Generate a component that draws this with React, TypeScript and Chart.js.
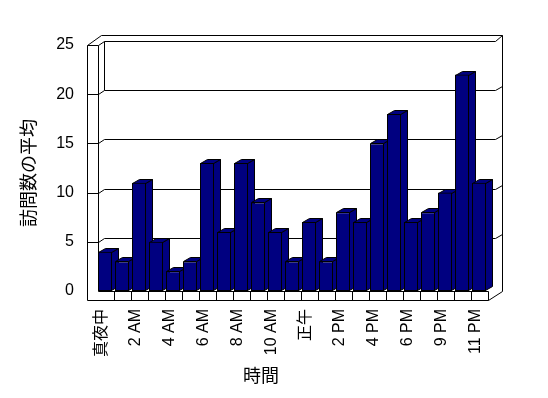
import React, { useEffect, useRef } from "react";
import { Chart, registerables } from "chart.js";

Chart.register(...registerables);

const categories: string[] = [
  "真夜中", "1 AM", "2 AM", "3 AM", "4 AM", "5 AM", "6 AM", "7 AM", "8 AM", "9 AM",
  "10 AM", "11 AM", "正午", "1 PM", "2 PM", "3 PM", "4 PM", "5 PM", "6 PM", "7 PM",
  "9 PM", "10 PM", "11 PM",
];
const visits: number[] = [4, 3, 11, 5, 2, 3, 13, 6, 13, 9, 6, 3, 7, 3, 8, 7, 15, 18, 7, 8, 10, 22, 11];
const yTicks: number[] = [0, 5, 10, 15, 20, 25];
const yTitle = "訪問数の平均";
const xTitle = "時間";

const NAVY = "#000080";
const DX = 7;
const DY = -4;

const h = (v: number) => Math.round(v) + 0.5;

const line = (ctx: CanvasRenderingContext2D, pts: number[][]) => {
  ctx.beginPath();
  ctx.moveTo(pts[0][0], pts[0][1]);
  for (let i = 1; i < pts.length; i++) ctx.lineTo(pts[i][0], pts[i][1]);
  ctx.stroke();
};

const frame3d = {
  id: "frame3d",
  beforeDatasetsDraw(chart: any) {
    const { ctx, chartArea: a, scales } = chart;
    const y = scales.y;
    const x = scales.x;
    const L = a.left;
    const R = a.right;
    const yTop = h(y.getPixelForValue(yTicks[yTicks.length - 1]));
    const yBot = h(y.getPixelForValue(0));
    const outerL = h(L - 10);
    const innerL = h(L + 1);
    const backL = innerL + 6;
    const backR = h(R) + 7;
    const outerR = backR + 7;
    const floorB = yBot + 9;
    ctx.save();
    ctx.lineWidth = 1;
    ctx.strokeStyle = "#000";
    ctx.fillStyle = "#fff";
    // floor front face
    ctx.fillRect(outerL, yBot, h(R) - outerL, floorB - yBot);
    // left wall
    line(ctx, [[outerL, floorB], [outerL, yTop], [innerL, yTop], [innerL, yBot]]);
    line(ctx, [[outerL, yTop], [outerL + 14, yTop - 10], [outerR, yTop - 10], [outerR, yBot]]);
    line(ctx, [[innerL, yTop], [backL, yTop - 4], [backR, yTop - 4], [outerR, yTop - 10]]);
    // floor
    line(ctx, [[outerL, floorB], [h(R), floorB], [outerR, yBot]]);
    line(ctx, [[innerL, yBot], [h(R), yBot]]);
    for (let k = 1; k <= categories.length; k++) {
      const px = h(L + (k * (R - L)) / categories.length);
      line(ctx, [[px, yBot], [px, floorB]]);
    }
    // gridlines on the back wall
    const inner = yTicks.filter((v) => v > 0 && v < yTicks[yTicks.length - 1]);
    inner.forEach((v) => {
      const yy = h(y.getPixelForValue(v));
      line(ctx, [[outerL, yy], [innerL, yy], [backL, yy - 4], [backR, yy - 4], [outerR, yy - 8]]);
    });
    const yFirst = h(y.getPixelForValue(inner[inner.length - 1]));
    line(ctx, [[backL, yTop - 4], [backL, yFirst - 4]]);
    // bar sides and tops
    const meta = chart.getDatasetMeta(0);
    ctx.fillStyle = NAVY;
    meta.data.forEach((el: any) => {
      const p = el.getProps(["x", "y", "base", "width"], true);
      const l = Math.round(p.x - p.width / 2) + 0.5;
      const r = Math.round(p.x + p.width / 2) - 0.5;
      const t = Math.round(p.y) + 0.5;
      const b = Math.round(p.base) - 0.5;
      ctx.beginPath();
      ctx.moveTo(r, t);
      ctx.lineTo(r + DX, t + DY);
      ctx.lineTo(r + DX, b + DY);
      ctx.lineTo(r, b);
      ctx.closePath();
      ctx.fill();
      ctx.stroke();
      ctx.beginPath();
      ctx.moveTo(l, t);
      ctx.lineTo(l + DX, t + DY);
      ctx.lineTo(r + DX, t + DY);
      ctx.lineTo(r, t);
      ctx.closePath();
      ctx.fill();
      ctx.stroke();
    });
    ctx.restore();
  },
  afterDraw(chart: any) {
    const { ctx, chartArea: a } = chart;
    ctx.save();
    ctx.fillStyle = "#000";
    ctx.font = '18px "Noto Sans CJK JP", sans-serif';
    ctx.textAlign = "center";
    ctx.textBaseline = "middle";
    ctx.fillText(xTitle, (a.left + a.right) / 2 - 31, a.bottom + 84);
    ctx.translate(28, (a.top + a.bottom) / 2 + 5);
    ctx.rotate(-Math.PI / 2);
    ctx.fillText(yTitle, 0, 0);
    ctx.restore();
  },
};

export default function App() {
  const ref = useRef<HTMLCanvasElement | null>(null);
  useEffect(() => {
    if (!ref.current) return;
    const font = { family: "'Liberation Sans', 'Noto Sans CJK JP', sans-serif", size: 16 };
    const chart = new Chart(ref.current, {
      type: "bar",
      data: {
        labels: categories,
        datasets: [
          {
            data: visits,
            backgroundColor: NAVY,
            borderColor: "#000",
            borderWidth: 1,
            borderSkipped: false,
            categoryPercentage: 1,
            barPercentage: 14 / 17,
          },
        ],
      },
      options: {
        responsive: false,
        animation: false,
        devicePixelRatio: 1,
        layout: { padding: { top: 45, right: 60.5, left: 0, bottom: 0 } },
        plugins: { legend: { display: false }, tooltip: { enabled: false } },
        scales: {
          x: {
            grid: { display: false, drawTicks: false },
            border: { display: false },
            afterFit: (s: any) => {
              s.height = 107;
            },
            ticks: {
              autoSkip: false,
              minRotation: 90,
              maxRotation: 90,
              padding: 18,
              labelOffset: -3,
              color: "#000",
              font,
              callback: (_v: any, i: number) => (i % 2 === 0 ? categories[i] : ""),
            },
          },
          y: {
            min: yTicks[0],
            max: yTicks[yTicks.length - 1],
            grid: { display: false, drawTicks: false },
            border: { display: false },
            afterFit: (s: any) => {
              s.width = 96.5;
            },
            afterBuildTicks: (s: any) => {
              s.ticks = yTicks.map((v) => ({ value: v }));
            },
            ticks: { padding: 22.5, color: "#000", font },
          },
        },
      },
      plugins: [frame3d],
    });
    return () => chart.destroy();
  }, []);
  return (
    <div style={{ position: "fixed", left: 0, top: 0, width: 548, height: 398, background: "#fff" }}>
      <canvas ref={ref} width={548} height={398} style={{ display: "block" }} />
    </div>
  );
}
